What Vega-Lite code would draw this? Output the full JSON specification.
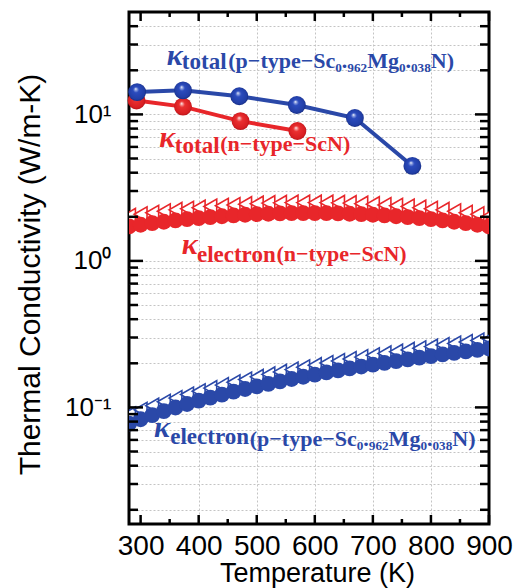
{
  "$schema": "https://vega.github.io/schema/vega-lite/v6.json",
  "width": 360,
  "height": 512,
  "autosize": "none",
  "padding": {"left": 129, "top": 12, "right": 25, "bottom": 64},
  "background": "white",
  "config": {
    "view": {"stroke": "black", "strokeWidth": 3},
    "axis": {"domain": false, "ticks": false, "labelFont": "Liberation Sans", "titleFont": "Liberation Sans", "labelColor": "black", "titleColor": "black", "titleFontWeight": "normal", "labelFlush": false, "labelOverlap": false, "labelBound": false}
  },
  "datasets": {
    "xmaj": [{"T": 300}, {"T": 400}, {"T": 500}, {"T": 600}, {"T": 700}, {"T": 800}, {"T": 900}],
    "xmin": [{"T": 350}, {"T": 450}, {"T": 550}, {"T": 650}, {"T": 750}, {"T": 850}],
    "ymaj": [{"k": 0.1}, {"k": 1}, {"k": 10}],
    "ymin": [{"k": 0.02}, {"k": 0.03}, {"k": 0.04}, {"k": 0.05}, {"k": 0.06}, {"k": 0.07}, {"k": 0.08}, {"k": 0.09}, {"k": 0.2}, {"k": 0.3}, {"k": 0.4}, {"k": 0.5}, {"k": 0.6}, {"k": 0.7}, {"k": 0.8}, {"k": 0.9}, {"k": 2}, {"k": 3}, {"k": 4}, {"k": 5}, {"k": 6}, {"k": 7}, {"k": 8}, {"k": 9}, {"k": 20}, {"k": 30}, {"k": 40}],
    "ke_n_fill": [
      {"T": 280, "k": 1.720}, {"T": 300, "k": 1.765}, {"T": 320, "k": 1.809}, {"T": 340, "k": 1.850}, {"T": 360, "k": 1.889}, {"T": 380, "k": 1.926}, {"T": 400, "k": 1.960}, {"T": 420, "k": 1.991}, {"T": 440, "k": 2.018}, {"T": 460, "k": 2.043}, {"T": 480, "k": 2.065}, {"T": 500, "k": 2.083}, {"T": 520, "k": 2.098}, {"T": 540, "k": 2.108}, {"T": 560, "k": 2.116}, {"T": 580, "k": 2.120}, {"T": 600, "k": 2.120}, {"T": 620, "k": 2.116}, {"T": 640, "k": 2.108}, {"T": 660, "k": 2.098}, {"T": 680, "k": 2.083}, {"T": 700, "k": 2.065}, {"T": 720, "k": 2.043}, {"T": 740, "k": 2.018}, {"T": 760, "k": 1.991}, {"T": 780, "k": 1.960}, {"T": 800, "k": 1.926}, {"T": 820, "k": 1.889}, {"T": 840, "k": 1.850}, {"T": 860, "k": 1.809}, {"T": 880, "k": 1.765}, {"T": 900, "k": 1.720}
    ],
    "ke_n_open": [
      {"T": 280, "k": 2.03}, {"T": 300, "k": 2.08}, {"T": 320, "k": 2.13}, {"T": 340, "k": 2.18}, {"T": 360, "k": 2.23}, {"T": 380, "k": 2.27}, {"T": 400, "k": 2.31}, {"T": 420, "k": 2.35}, {"T": 440, "k": 2.38}, {"T": 460, "k": 2.41}, {"T": 480, "k": 2.44}, {"T": 500, "k": 2.46}, {"T": 520, "k": 2.48}, {"T": 540, "k": 2.49}, {"T": 560, "k": 2.50}, {"T": 580, "k": 2.50}, {"T": 600, "k": 2.50}, {"T": 620, "k": 2.50}, {"T": 640, "k": 2.49}, {"T": 660, "k": 2.48}, {"T": 680, "k": 2.46}, {"T": 700, "k": 2.44}, {"T": 720, "k": 2.41}, {"T": 740, "k": 2.38}, {"T": 760, "k": 2.35}, {"T": 780, "k": 2.31}, {"T": 800, "k": 2.27}, {"T": 820, "k": 2.23}, {"T": 840, "k": 2.18}, {"T": 860, "k": 2.13}, {"T": 880, "k": 2.08}, {"T": 900, "k": 2.03}
    ],
    "ke_p_fill": [
      {"T": 280, "k": 0.0774}, {"T": 300, "k": 0.0830}, {"T": 320, "k": 0.0886}, {"T": 340, "k": 0.0942}, {"T": 360, "k": 0.0998}, {"T": 380, "k": 0.1055}, {"T": 400, "k": 0.1111}, {"T": 420, "k": 0.1167}, {"T": 440, "k": 0.1224}, {"T": 460, "k": 0.1280}, {"T": 480, "k": 0.1336}, {"T": 500, "k": 0.1393}, {"T": 520, "k": 0.1449}, {"T": 540, "k": 0.1506}, {"T": 560, "k": 0.1562}, {"T": 580, "k": 0.1619}, {"T": 600, "k": 0.1675}, {"T": 620, "k": 0.1732}, {"T": 640, "k": 0.1788}, {"T": 660, "k": 0.1845}, {"T": 680, "k": 0.1901}, {"T": 700, "k": 0.1958}, {"T": 720, "k": 0.2015}, {"T": 740, "k": 0.2071}, {"T": 760, "k": 0.2128}, {"T": 780, "k": 0.2185}, {"T": 800, "k": 0.2241}, {"T": 820, "k": 0.2298}, {"T": 840, "k": 0.2355}, {"T": 860, "k": 0.2411}, {"T": 880, "k": 0.2468}, {"T": 900, "k": 0.2525}
    ],
    "ke_p_open": [
      {"T": 280, "k": 0.0898}, {"T": 300, "k": 0.0963}, {"T": 320, "k": 0.1028}, {"T": 340, "k": 0.1093}, {"T": 360, "k": 0.1158}, {"T": 380, "k": 0.1224}, {"T": 400, "k": 0.1289}, {"T": 420, "k": 0.1354}, {"T": 440, "k": 0.1420}, {"T": 460, "k": 0.1485}, {"T": 480, "k": 0.1550}, {"T": 500, "k": 0.1616}, {"T": 520, "k": 0.1681}, {"T": 540, "k": 0.1747}, {"T": 560, "k": 0.1812}, {"T": 580, "k": 0.1878}, {"T": 600, "k": 0.1943}, {"T": 620, "k": 0.2009}, {"T": 640, "k": 0.2074}, {"T": 660, "k": 0.2140}, {"T": 680, "k": 0.2205}, {"T": 700, "k": 0.2271}, {"T": 720, "k": 0.2337}, {"T": 740, "k": 0.2402}, {"T": 760, "k": 0.2468}, {"T": 780, "k": 0.2535}, {"T": 800, "k": 0.2600}, {"T": 820, "k": 0.2666}, {"T": 840, "k": 0.2732}, {"T": 860, "k": 0.2797}, {"T": 880, "k": 0.2863}, {"T": 900, "k": 0.2929}
    ],
    "kt_n": [
      {"T": 293, "k": 12.45}, {"T": 373, "k": 11.3}, {"T": 472, "k": 9.0}, {"T": 570, "k": 7.7}
    ],
    "kt_p": [
      {"T": 294, "k": 14.2}, {"T": 373, "k": 14.6}, {"T": 470, "k": 13.3}, {"T": 569, "k": 11.6}, {"T": 669, "k": 9.45}, {"T": 768, "k": 4.45}
    ],
    "lab_kappa": [
      {"T": 345, "k": 21.6, "text": "κ", "s": "p"},
      {"T": 332, "k": 5.95, "text": "κ", "s": "n"},
      {"T": 371, "k": 1.116, "text": "κ", "s": "n"},
      {"T": 323, "k": 0.0624, "text": "κ", "s": "p"}
    ],
    "lab_sub": [
      {"T": 371, "k": 20.3, "text": "total", "s": "p"},
      {"T": 359, "k": 5.41, "text": "total", "s": "n"},
      {"T": 397, "k": 0.984, "text": "electron", "s": "n"},
      {"T": 351, "k": 0.0559, "text": "electron", "s": "p"}
    ],
    "lab_main": [
      {"T": 451, "k": 20.6, "text": "(p−type−Sc₀.₉₆₂Mg₀.₀₃₈N)", "s": "p"},
      {"T": 437, "k": 5.59, "text": "(n−type−ScN)", "s": "n"},
      {"T": 534, "k": 1.0, "text": "(n−type−ScN)", "s": "n"},
      {"T": 488, "k": 0.0541, "text": "(p−type−Sc₀.₉₆₂Mg₀.₀₃₈N)", "s": "p"}
    ]
  },
  "resolve": {"scale": {"x": "shared", "y": "shared"}, "axis": {"x": "independent", "y": "independent"}},
  "layer": [
    {
      "data": {"name": "kt_n"},
      "mark": {"type": "line", "color": "#e8262a", "strokeWidth": 4},
      "encoding": {
        "x": {"field": "T", "type": "quantitative", "scale": {"domain": [280, 900], "nice": false, "zero": false},
              "axis": {"orient": "bottom", "values": [400, 500, 600, 700, 800], "grid": true, "gridColor": "#c4c4c4", "gridDash": [2, 2], "gridWidth": 1, "labels": false, "title": null, "zindex": 0}},
        "y": {"field": "k", "type": "quantitative", "scale": {"type": "log", "domain": [0.016, 50], "nice": false},
              "axis": {"orient": "left", "values": [0.02, 0.03, 0.04, 0.05, 0.06, 0.07, 0.08, 0.09, 0.1, 0.2, 0.3, 0.4, 0.5, 0.6, 0.7, 0.8, 0.9, 1, 2, 3, 4, 5, 6, 7, 8, 9, 10, 20, 30, 40], "grid": true, "gridColor": "#c4c4c4", "gridDash": [2, 2], "gridWidth": 1, "labels": false, "title": null, "zindex": 0}}
      }
    },
    {
      "data": {"name": "ke_n_open"},
      "mark": {"type": "point", "shape": "triangle-left", "filled": true, "fill": "white", "stroke": "#e8262a", "strokeWidth": 1.6, "opacity": 1, "size": 220, "clip": true},
      "encoding": {
        "x": {"field": "T", "type": "quantitative",
              "axis": {"orient": "bottom", "values": [300, 400, 500, 600, 700, 800, 900], "grid": false, "labelFontSize": 28, "labelPadding": 8, "title": "Temperature (K)", "titleFontSize": 27, "titleX": 188, "titleY": 57, "titleBaseline": "alphabetic", "titleAlign": "center"}},
        "y": {"field": "k", "type": "quantitative",
              "axis": {"orient": "left", "values": [0.1, 1, 10], "grid": false, "labelFontSize": 26, "labelPadding": 18, "labelExpr": "datum.value == 10 ? '10¹' : (datum.value == 1 ? '10⁰' : '10⁻¹')", "title": "Thermal Conductivity (W/m-K)", "titleFontSize": 30, "titleX": -90, "titleY": 262, "titleAngle": 270, "titleBaseline": "alphabetic", "titleAlign": "center"}}
      }
    },
    {
      "data": {"name": "ke_n_fill"},
      "mark": {"type": "point", "shape": "circle", "filled": true, "color": "#e8262a", "opacity": 1, "size": 250, "clip": true},
      "encoding": {
        "x": {"field": "T", "type": "quantitative", "axis": null},
        "y": {"field": "k", "type": "quantitative", "axis": null}
      }
    },
    {
      "data": {"name": "ke_p_open"},
      "mark": {"type": "point", "shape": "triangle-left", "filled": true, "fill": "white", "stroke": "#2a48a8", "strokeWidth": 1.6, "opacity": 1, "size": 220, "clip": true},
      "encoding": {
        "x": {"field": "T", "type": "quantitative", "axis": null},
        "y": {"field": "k", "type": "quantitative", "axis": null}
      }
    },
    {
      "data": {"name": "ke_p_fill"},
      "mark": {"type": "point", "shape": "circle", "filled": true, "color": "#2a48a8", "opacity": 1, "size": 250, "clip": true},
      "encoding": {
        "x": {"field": "T", "type": "quantitative", "axis": null},
        "y": {"field": "k", "type": "quantitative", "axis": null}
      }
    },
    {
      "data": {"name": "kt_n"},
      "mark": {"type": "point", "shape": "circle", "filled": true, "opacity": 1, "size": 320,
               "fill": {"gradient": "radial", "x1": 0.42, "y1": 0.32, "r1": 0, "x2": 0.5, "y2": 0.5, "r2": 0.55,
                        "stops": [{"offset": 0, "color": "#ffffff"}, {"offset": 0.12, "color": "#f59a9a"}, {"offset": 0.3, "color": "#ea2f30"}, {"offset": 0.8, "color": "#d81e22"}, {"offset": 1, "color": "#a51015"}]}},
      "encoding": {
        "x": {"field": "T", "type": "quantitative", "axis": null},
        "y": {"field": "k", "type": "quantitative", "axis": null}
      }
    },
    {
      "data": {"name": "kt_p"},
      "mark": {"type": "line", "color": "#2a48a8", "strokeWidth": 4},
      "encoding": {
        "x": {"field": "T", "type": "quantitative", "axis": null},
        "y": {"field": "k", "type": "quantitative", "axis": null}
      }
    },
    {
      "data": {"name": "kt_p"},
      "mark": {"type": "point", "shape": "circle", "filled": true, "opacity": 1, "size": 320,
               "fill": {"gradient": "radial", "x1": 0.42, "y1": 0.32, "r1": 0, "x2": 0.5, "y2": 0.5, "r2": 0.55,
                        "stops": [{"offset": 0, "color": "#ffffff"}, {"offset": 0.12, "color": "#8fa2e0"}, {"offset": 0.3, "color": "#2b4bbd"}, {"offset": 0.8, "color": "#213ea6"}, {"offset": 1, "color": "#10226e"}]}},
      "encoding": {
        "x": {"field": "T", "type": "quantitative", "axis": null},
        "y": {"field": "k", "type": "quantitative", "axis": null}
      }
    },
    {
      "data": {"name": "xmaj"},
      "mark": {"type": "point", "shape": "M0,0L0,-2", "filled": false, "stroke": "#000000", "strokeWidth": 2.5, "opacity": 1, "size": 81},
      "encoding": {
        "x": {"field": "T", "type": "quantitative", "axis": null},
        "y": {"datum": 0.016, "type": "quantitative", "axis": null}
      }
    },
    {
      "data": {"name": "xmaj"},
      "mark": {"type": "point", "shape": "M0,0L0,2", "filled": false, "stroke": "#000000", "strokeWidth": 2.5, "opacity": 1, "size": 81},
      "encoding": {
        "x": {"field": "T", "type": "quantitative", "axis": null},
        "y": {"datum": 50, "type": "quantitative", "axis": null}
      }
    },
    {
      "data": {"name": "xmin"},
      "mark": {"type": "point", "shape": "M0,0L0,-2", "filled": false, "stroke": "#000000", "strokeWidth": 2.5, "opacity": 1, "size": 25},
      "encoding": {
        "x": {"field": "T", "type": "quantitative", "axis": null},
        "y": {"datum": 0.016, "type": "quantitative", "axis": null}
      }
    },
    {
      "data": {"name": "xmin"},
      "mark": {"type": "point", "shape": "M0,0L0,2", "filled": false, "stroke": "#000000", "strokeWidth": 2.5, "opacity": 1, "size": 25},
      "encoding": {
        "x": {"field": "T", "type": "quantitative", "axis": null},
        "y": {"datum": 50, "type": "quantitative", "axis": null}
      }
    },
    {
      "data": {"name": "ymaj"},
      "mark": {"type": "point", "shape": "M0,0L2,0", "filled": false, "stroke": "#000000", "strokeWidth": 2.5, "opacity": 1, "size": 196},
      "encoding": {
        "y": {"field": "k", "type": "quantitative", "axis": null},
        "x": {"datum": 280, "type": "quantitative", "axis": null}
      }
    },
    {
      "data": {"name": "ymaj"},
      "mark": {"type": "point", "shape": "M0,0L-2,0", "filled": false, "stroke": "#000000", "strokeWidth": 2.5, "opacity": 1, "size": 196},
      "encoding": {
        "y": {"field": "k", "type": "quantitative", "axis": null},
        "x": {"datum": 900, "type": "quantitative", "axis": null}
      }
    },
    {
      "data": {"name": "ymin"},
      "mark": {"type": "point", "shape": "M0,0L2,0", "filled": false, "stroke": "#000000", "strokeWidth": 2.5, "opacity": 1, "size": 81},
      "encoding": {
        "y": {"field": "k", "type": "quantitative", "axis": null},
        "x": {"datum": 280, "type": "quantitative", "axis": null}
      }
    },
    {
      "data": {"name": "ymin"},
      "mark": {"type": "point", "shape": "M0,0L-2,0", "filled": false, "stroke": "#000000", "strokeWidth": 2.5, "opacity": 1, "size": 81},
      "encoding": {
        "y": {"field": "k", "type": "quantitative", "axis": null},
        "x": {"datum": 900, "type": "quantitative", "axis": null}
      }
    },
    {
      "data": {"name": "lab_kappa"},
      "mark": {"type": "text", "align": "left", "baseline": "alphabetic", "font": "Liberation Serif", "fontWeight": "bold", "fontStyle": "italic", "fontSize": 30},
      "encoding": {
        "x": {"field": "T", "type": "quantitative", "axis": null},
        "y": {"field": "k", "type": "quantitative", "axis": null},
        "text": {"field": "text"},
        "color": {"field": "s", "type": "nominal", "scale": {"domain": ["n", "p"], "range": ["#e8262a", "#2a48a8"]}, "legend": null}
      }
    },
    {
      "data": {"name": "lab_sub"},
      "mark": {"type": "text", "align": "left", "baseline": "alphabetic", "font": "Liberation Serif", "fontWeight": "bold", "fontSize": 23},
      "encoding": {
        "x": {"field": "T", "type": "quantitative", "axis": null},
        "y": {"field": "k", "type": "quantitative", "axis": null},
        "text": {"field": "text"},
        "color": {"field": "s", "type": "nominal", "legend": null}
      }
    },
    {
      "data": {"name": "lab_main"},
      "mark": {"type": "text", "align": "left", "baseline": "alphabetic", "font": "Liberation Serif", "fontWeight": "bold", "fontSize": 22},
      "encoding": {
        "x": {"field": "T", "type": "quantitative", "axis": null},
        "y": {"field": "k", "type": "quantitative", "axis": null},
        "text": {"field": "text"},
        "color": {"field": "s", "type": "nominal", "legend": null}
      }
    }
  ]
}
